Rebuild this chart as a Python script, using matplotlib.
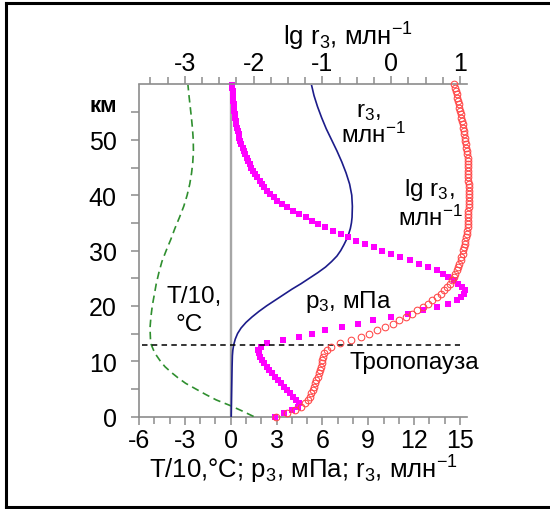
import matplotlib
matplotlib.use('Agg')
import matplotlib.pyplot as plt
from matplotlib.lines import Line2D
from matplotlib.ticker import MultipleLocator, FixedLocator

plt.rcParams['font.family'] = ['Liberation Sans', 'DejaVu Sans']
plt.rcParams['mathtext.fontset'] = 'custom'
plt.rcParams['mathtext.rm'] = 'Liberation Sans'
plt.rcParams['mathtext.default'] = 'regular'

# ---------------- data ----------------
# sounding levels (km) for the marker series
ALT_KM = [round(0.6 * i, 1) for i in range(101)]

# ozone partial pressure p3, mPa (magenta squares, bottom axis)
P3_MPA = [2.9, 3.5, 4.0, 4.4, 4.45, 4.3, 4.1, 3.9, 3.7, 3.5,
          3.3, 3.1, 2.9, 2.7, 2.5, 2.35, 2.2, 2.05, 1.92, 1.82,
          1.8, 2.0, 2.4, 3.4, 4.5, 5.3, 6.2, 7.3, 8.3, 9.3,
          10.5, 11.6, 12.6, 13.5, 14.2, 14.8, 15.1, 15.25, 15.3, 15.15,
          14.9, 14.6, 14.2, 13.9, 13.5, 12.9, 12.3, 11.7, 11.1, 10.5,
          9.9, 9.4, 8.8, 8.2, 7.7, 7.2, 6.7, 6.2, 5.7, 5.3,
          4.9, 4.5, 4.1, 3.7, 3.35, 3.05, 2.8, 2.6, 2.4, 2.2,
          2.05, 1.9, 1.75, 1.6, 1.48, 1.36, 1.25, 1.14, 1.04, 0.95,
          0.86, 0.78, 0.7, 0.63, 0.57, 0.51, 0.46, 0.41, 0.37, 0.33,
          0.3, 0.27, 0.24, 0.21, 0.19, 0.17, 0.15, 0.13, 0.12, 0.1,
          0.09]

# lg of ozone mixing ratio, lg(ppm) (red open circles, top axis)
LG_R3 = [-1.68, -1.52, -1.40, -1.31, -1.25, -1.21, -1.18, -1.16, -1.14, -1.12,
         -1.11, -1.09, -1.07, -1.05, -1.03, -1.02, -1.01, -1.00, -0.99, -0.97,
         -0.94, -0.88, -0.74, -0.58, -0.44, -0.32, -0.20, -0.09, 0.02, 0.12,
         0.21, 0.30, 0.38, 0.46, 0.53, 0.60, 0.66, 0.72, 0.77, 0.81,
         0.85, 0.88, 0.91, 0.93, 0.95, 0.97, 0.99, 1.01, 1.02, 1.04,
         1.05, 1.06, 1.07, 1.08, 1.09, 1.10, 1.10, 1.11, 1.11, 1.12,
         1.12, 1.12, 1.12, 1.13, 1.13, 1.13, 1.13, 1.13, 1.13, 1.13,
         1.13, 1.12, 1.12, 1.12, 1.12, 1.12, 1.11, 1.11, 1.11, 1.10,
         1.10, 1.09, 1.09, 1.08, 1.07, 1.06, 1.06, 1.05, 1.04, 1.03,
         1.02, 1.01, 1.00, 0.99, 0.98, 0.97, 0.96, 0.95, 0.94, 0.93,
         0.92]

# ozone mixing ratio r3, ppm (blue line)
BLUE_ALT = [0, 3, 6, 9, 11, 12, 13, 14, 15, 16, 17, 18, 19, 20, 21, 22, 23, 24,
            25, 26, 27, 28, 29, 30, 31, 32, 33, 34, 35, 36, 38, 40, 42, 44, 46,
            48, 50, 52, 54, 56, 58, 60]
R3_PPM = [0.03, 0.05, 0.07, 0.09, 0.11, 0.14, 0.2, 0.3, 0.45, 0.68, 1.0, 1.4,
          1.85, 2.35, 2.9, 3.45, 4.0, 4.6, 5.15, 5.7, 6.2, 6.6, 6.95, 7.2, 7.4,
          7.58, 7.72, 7.83, 7.9, 7.94, 7.96, 7.92, 7.78, 7.55, 7.27, 6.95, 6.6,
          6.25, 5.95, 5.68, 5.45, 5.28]

# temperature / 10, degC (green dashed)
T_ALT = [0, 1, 2, 3, 4, 5, 6, 7, 8, 9, 10, 11, 12, 13, 14, 16, 18, 20, 22, 24,
         26, 28, 30, 32, 34, 36, 38, 40, 42, 44, 46, 48, 50, 52, 54, 56, 58, 60]
T10 = [1.5, 0.75, -0.05, -0.95, -1.65, -2.3, -2.95, -3.45, -3.9, -4.3, -4.6,
       -4.85, -5.05, -5.2, -5.25, -5.28, -5.22, -5.13, -5.0, -4.87, -4.7, -4.5,
       -4.22, -3.92, -3.65, -3.35, -3.07, -2.85, -2.68, -2.56, -2.48, -2.44,
       -2.45, -2.5, -2.57, -2.65, -2.73, -2.8]

TROPOPAUSE_KM = 13.0

BOTTOM_TICKS = [-6, -3, 0, 3, 6, 9, 12, 15]
TOP_TICKS = [-3, -2, -1, 0, 1]
Y_TICKS = [0, 10, 20, 30, 40, 50]

# ---------------- figure ----------------
W, H = 550, 510
fig = plt.figure(figsize=(W / 100, H / 100), dpi=100)

L, R, B, T = 139, 467, 417.5, 85.5
ax = fig.add_axes([L / W, 1 - B / H, (R - L) / W, (B - T) / H])
XMIN, XMAX = -6, 15.46
ax.set_xlim(XMIN, XMAX)
ax.set_ylim(0, 60)

ax2 = ax.twiny()
ax2.set_xlim((XMIN - 10.5) / 4.5, (XMAX - 10.5) / 4.5)
ax2.set_ylim(0, 60)

grey = '#8c8c8c'
for a in (ax, ax2):
    for s in a.spines.values():
        s.set_visible(False)
        s.set_color(grey)
        s.set_linewidth(1.2)
ax.spines['left'].set_visible(True)
ax.spines['bottom'].set_visible(True)
ax2.spines['top'].set_visible(True)

TFS = 18
ax.set_xticks(BOTTOM_TICKS)
ax.set_xticklabels([str(v) for v in BOTTOM_TICKS])
ax.xaxis.set_minor_locator(MultipleLocator(1))
ax.set_yticks(Y_TICKS)
ax.yaxis.set_minor_locator(FixedLocator([5, 15, 25, 35, 45, 55]))
ax2.set_xticks(TOP_TICKS)
ax2.set_xticklabels([str(v) for v in TOP_TICKS])
ax2.xaxis.set_minor_locator(MultipleLocator(0.25))

ax.tick_params(axis='x', which='both', direction='out', color=grey, width=1.1,
               labelsize=TFS, pad=2.0)
ax.tick_params(axis='x', which='major', length=6)
ax.tick_params(axis='x', which='minor', length=5)
ax.tick_params(axis='y', which='both', direction='out', color=grey, width=1.1,
               length=6, labelsize=TFS, pad=10.0)
ax2.tick_params(axis='x', which='both', direction='out', color=grey, width=1.1,
                labelsize=TFS, pad=1.0)
ax2.tick_params(axis='x', which='major', length=6)
ax2.tick_params(axis='x', which='minor', length=5)

# reference line at zero
ax.axvline(0, color='#a6a6a6', lw=1.7, zorder=1)

# temperature
ax.plot(T10, T_ALT, color='#2f8f2f', lw=1.2, dashes=(4.5, 2.8), zorder=3)
# mixing ratio
ax.plot(R3_PPM, BLUE_ALT, color='#1c1c8a', lw=1.2, zorder=4)
# partial pressure
ax.plot(P3_MPA, ALT_KM, ls='none', marker='s', ms=4.7, mew=0,
        color='#ff00ff', zorder=5, clip_on=False)
# lg mixing ratio on top axis
ax2.plot(LG_R3, ALT_KM, ls='none', marker='o', ms=4.8, mew=0.75,
         mfc='none', mec='#ff4646', zorder=5, clip_on=False)

# tropopause
ax.plot([-5.8, 15.0], [TROPOPAUSE_KM, TROPOPAUSE_KM], color='black', lw=1.1,
        dashes=(3.6, 2.8), zorder=6)


def ftext(xp, yp, s, fs, **kw):
    fig.text(xp / W, 1 - yp / H, s, ha=kw.pop('ha', 'center'),
             va=kw.pop('va', 'center'), fontsize=fs, **kw)


AFS = 17.5
ftext(368, 112, 'r$_3$,', AFS)
ftext(373, 135, 'млн$^{-1}$', AFS)
ftext(429, 190, 'lg r$_3$,', AFS)
ftext(430, 218, 'млн$^{-1}$', AFS)
ftext(348, 302, 'p$_3$, мПа', AFS)
ftext(194.5, 297, 'T/10,', AFS)
ftext(189, 325, '°C', AFS)
ftext(414, 363, 'Тропопауза', AFS)
ftext(117, 106, 'км', 16, ha='right', fontweight='bold')

ftext(303.5, 470, 'T/10,°C; p$_3$, мПа; r$_3$, млн$^{-1}$', 18.5)
ftext(347.5, 37, 'lg r$_3$, млн$^{-1}$', 18.5)

# outer frame (right side lies outside the picture)
def px(xp, yp):
    return xp / W, 1 - yp / H
for (x0, y0), (x1, y1) in [((6, 4), (560, 4)), ((6, 4), (6, 508)),
                           ((6, 508), (560, 508))]:
    a0, b0 = px(x0, y0)
    a1, b1 = px(x1, y1)
    fig.add_artist(Line2D([a0, a1], [b0, b1], color='black', lw=2.2,
                          transform=fig.transFigure))

fig.savefig('out.png', dpi=100)
